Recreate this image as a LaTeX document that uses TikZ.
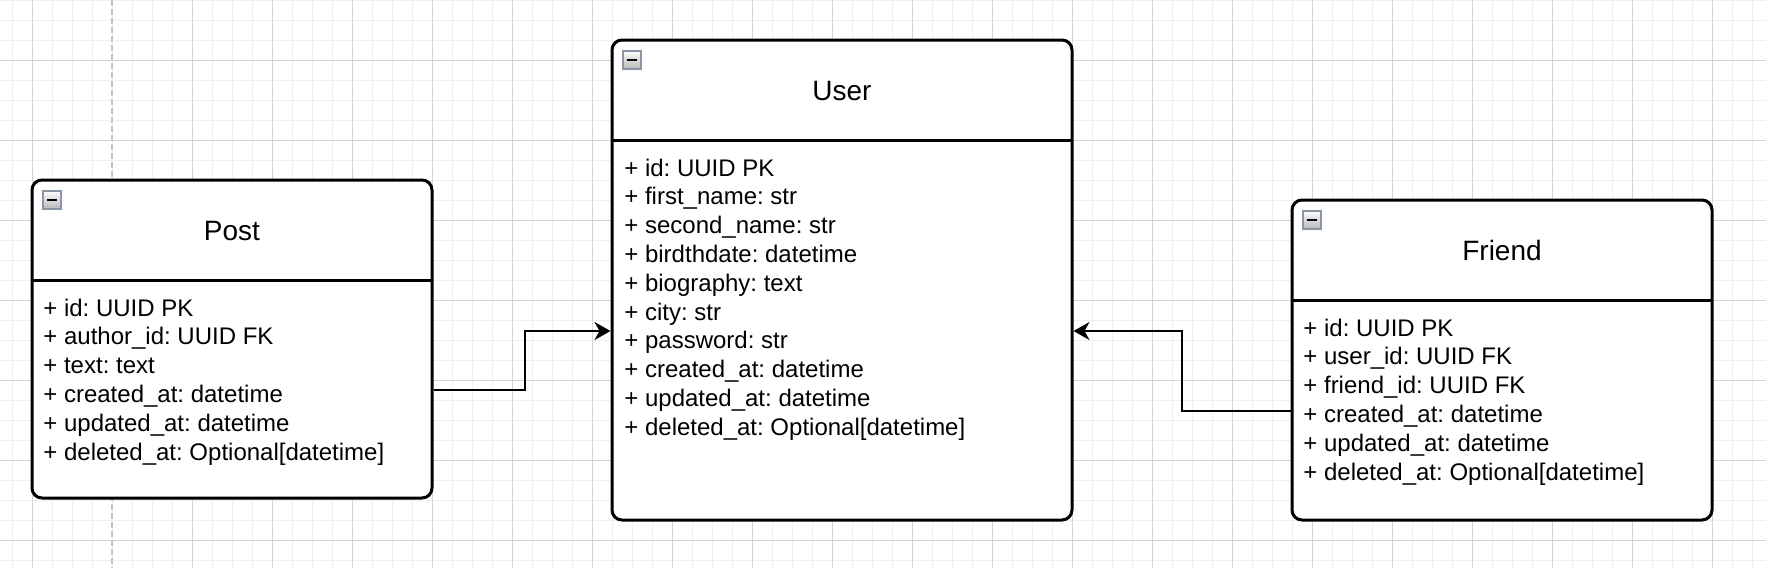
\documentclass[tikz,border=0pt]{standalone}
\usepackage{fontspec}
\setmainfont{Liberation Sans}
\frenchspacing
\usetikzlibrary{arrows.meta,calc}
\definecolor{gridminor}{HTML}{EFEFEF}
\definecolor{gridmajor}{HTML}{D4D4D4}
\definecolor{pagebreak}{HTML}{C4C4C4}
\definecolor{iconborder}{HTML}{8C95A6}
\begin{document}
\begin{tikzpicture}[x=0.5pt,y=-0.5pt,
  entity/.style={draw, line width=1.5pt, rounded corners=5pt, fill=white, inner sep=0pt},
  sepline/.style={line width=1.5pt},
  titletext/.style={font=\fontsize{14}{16.8}\selectfont, anchor=base, inner sep=0pt},
  fieldtext/.style={font=\fontsize{12}{14.4}\selectfont, anchor=base west, inner sep=0pt},
  conn/.style={line width=1pt, -{Stealth[length=8pt,width=9pt,inset=2.5pt]}},
  collapse/.style={draw=iconborder, line width=0.8pt, top color=white, bottom color=black!28, minimum size=9pt, inner sep=0pt, anchor=north west},
  minusbar/.style={line width=1pt}
]
\useasboundingbox (0,0) rectangle (1766,568);
\fill[white] (0,0) rectangle (1766,568);
% grid
\foreach \x in {12,32,...,1766} \draw[gridminor,line width=0.5pt] (\x,0) -- (\x,568);
\foreach \y in {0.7,20.7,...,568} \draw[gridminor,line width=0.5pt] (0,\y) -- (1766,\y);
\foreach \x in {32,192,272,...,1766} \draw[gridmajor,line width=0.5pt] (\x,0) -- (\x,568);
\foreach \y in {60.7,140.7,...,568} \draw[gridmajor,line width=0.5pt] (0,\y) -- (1766,\y);
\draw[pagebreak,line width=0.7pt,dash pattern=on 3pt off 1.5pt] (112,0) -- (112,568);

% boxes
\node[entity, minimum width=200pt, minimum height=159pt] (post) at (232,339) {};
\node[entity, minimum width=230pt, minimum height=240pt] (user) at (842,280) {};
\node[entity, minimum width=210pt, minimum height=160pt] (friend) at (1502,360) {};

\draw[sepline] (32,280) -- (432,280);
\draw[sepline] (612,140) -- (1072,140);
\draw[sepline] (1292,300) -- (1712,300);

% collapse icons
\node[collapse] (postcol) at (42,190) {};
\draw[minusbar] ([xshift=-2.5pt]postcol.center) -- ([xshift=2.5pt]postcol.center);
\node[collapse] (usercol) at (622,50) {};
\draw[minusbar] ([xshift=-2.5pt]usercol.center) -- ([xshift=2.5pt]usercol.center);
\node[collapse] (friendcol) at (1302,210) {};
\draw[minusbar] ([xshift=-2.5pt]friendcol.center) -- ([xshift=2.5pt]friendcol.center);

% titles
\node[titletext] (posttitle) at (232,240) {Post};
\node[titletext] (usertitle) at (842,100) {User};
\node[titletext] (friendtitle) at (1502,260) {Friend};

% fields
\foreach \t [count=\i from 0] in {{+ id: UUID PK},{+ author\_id: UUID FK},{+ text: text},{+ created\_at: datetime},{+ updated\_at: datetime},{+ deleted\_at: Optional[datetime]}}
  \node[fieldtext] (postf\i) at (43,316+28.8*\i) {\t};
\foreach \t [count=\i from 0] in {{+ id: UUID PK},{+ first\_name: str},{+ second\_name: str},{+ birdthdate: datetime},{+ biography: text},{+ city: str},{+ password: str},{+ created\_at: datetime},{+ updated\_at: datetime},{+ deleted\_at: Optional[datetime]}}
  \node[fieldtext] (userf\i) at (624,176+28.8*\i) {\t};
\foreach \t [count=\i from 0] in {{+ id: UUID PK},{+ user\_id: UUID FK},{+ friend\_id: UUID FK},{+ created\_at: datetime},{+ updated\_at: datetime},{+ deleted\_at: Optional[datetime]}}
  \node[fieldtext] (friendf\i) at (1303,336+28.8*\i) {\t};

% connectors
\draw[conn] ([yshift=-25.5pt]post.east) -- ++(91,0) |- ([yshift=-25.5pt]user.west);
\draw[conn] ([yshift=-25.5pt]friend.west) -- ++(-109,0) |- ([yshift=-25.5pt]user.east);
\end{tikzpicture}
\end{document}
